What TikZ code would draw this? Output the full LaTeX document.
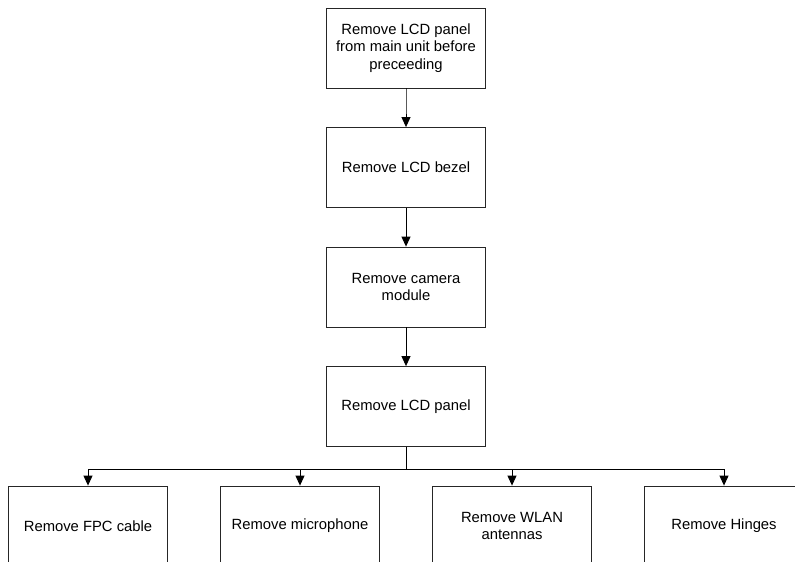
\documentclass[tikz,border=0pt]{standalone}
\usepackage{fontspec}
\setmainfont{Liberation Sans}
\usetikzlibrary{arrows.meta}
\begin{document}
\begin{tikzpicture}[
        x=1pt, y=1pt,
        level distance=119.5pt,
        level 4/.style={sibling distance=212pt},
        every node/.style={rectangle, draw=black!85, line width=0.8pt, minimum width=159pt, minimum height=80pt, inner sep=2pt, align=center, font=\fontsize{14.8}{17.5}\selectfont},
        edge from parent/.style={draw, line width=0.9pt, -{Triangle[length=10pt, width=9pt]}},
        edge from parent path={(\tikzparentnode.south) -- ++(0,-23) -| (\tikzchildnode.north)}
    ]
        \useasboundingbox (0,0) rectangle (795,-562);
        \clip (0,0) rectangle (795,-562);

        \node (panelunit) at (406,-48) {Remove LCD panel\\from main unit before\\preceeding}
        child {
            node (bezel) {Remove LCD bezel}
            child {
                node (camera) {Remove camera\\module}
                child {
                    node (panel) {Remove LCD panel}
                    child { node (fpc) {Remove FPC cable} }
                    child { node (mic) {Remove microphone} }
                    child { node (wlan) {Remove WLAN\\antennas} }
                    child { node (hinges) {Remove Hinges} }
                }
            }
        };
    \end{tikzpicture}
\end{document}
